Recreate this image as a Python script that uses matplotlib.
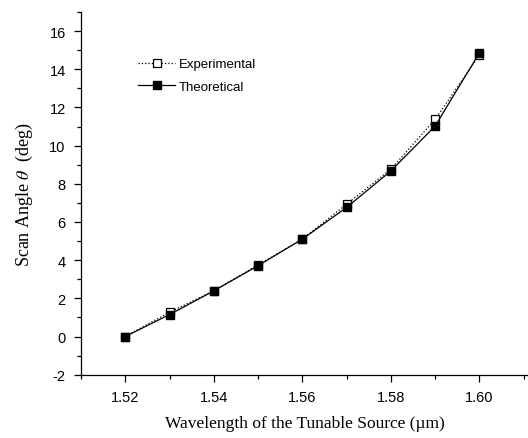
import matplotlib
matplotlib.use("Agg")
import matplotlib.pyplot as plt
from matplotlib.ticker import MultipleLocator

wavelength = [1.52, 1.53, 1.54, 1.55, 1.56, 1.57, 1.58, 1.59, 1.60]
experimental = [0.0, 1.27, 2.4, 3.75, 5.1, 6.93, 8.76, 11.37, 14.73]
theoretical = [0.0, 1.15, 2.39, 3.71, 5.1, 6.76, 8.67, 11.02, 14.85]

xticks = [1.52, 1.54, 1.56, 1.58, 1.60]
yticks = [-2, 0, 2, 4, 6, 8, 10, 12, 14, 16]

plt.rcParams["mathtext.fontset"] = "stix"

fig = plt.figure(figsize=(5.28, 4.39), dpi=100)
ax = fig.add_axes([0.1534, 0.1442, 0.8466, 0.8262])

sans = "Liberation Sans"
serif = "Liberation Serif"

ax.plot(wavelength, experimental, linestyle=":", color="black", linewidth=0.9,
        marker="s", markersize=6, markerfacecolor="white", markeredgecolor="black",
        markeredgewidth=0.9, label="Experimental")
ax.plot(wavelength, theoretical, linestyle="-", color="black", linewidth=0.9,
        marker="s", markersize=6, markerfacecolor="black", markeredgecolor="black",
        label="Theoretical")

ax.set_xlim(1.51, 1.611)
ax.set_ylim(-2, 17)
ax.set_xticks(xticks)
ax.set_xticklabels(["%.2f" % v for v in xticks], fontfamily=sans, fontsize=10.5)
ax.set_yticks(yticks)
ax.set_yticklabels([str(v) for v in yticks], fontfamily=sans, fontsize=10.5)
ax.xaxis.set_minor_locator(MultipleLocator(0.01))
ax.yaxis.set_minor_locator(MultipleLocator(1))
ax.tick_params(which="major", direction="out", length=5, width=0.9, pad=6)
ax.tick_params(which="minor", direction="out", length=3, width=0.9)

for s in ["top", "right"]:
    ax.spines[s].set_visible(False)
for s in ["left", "bottom"]:
    ax.spines[s].set_linewidth(0.9)

ax.set_xlabel("Wavelength of the Tunable Source (\u00b5m)", fontfamily=serif,
              fontsize=12.5, labelpad=8)
ax.set_ylabel(r"Scan Angle $\theta$  (deg)", fontfamily=serif, fontsize=13,
              labelpad=10)

leg = ax.legend(loc="upper left", bbox_to_anchor=(0.128, 0.873), frameon=False,
                prop={"family": sans, "size": 9.5}, handlelength=2.8,
                handletextpad=0.3, labelspacing=0.8, borderpad=0,
                borderaxespad=0)

fig.savefig("out.png", dpi=100)
